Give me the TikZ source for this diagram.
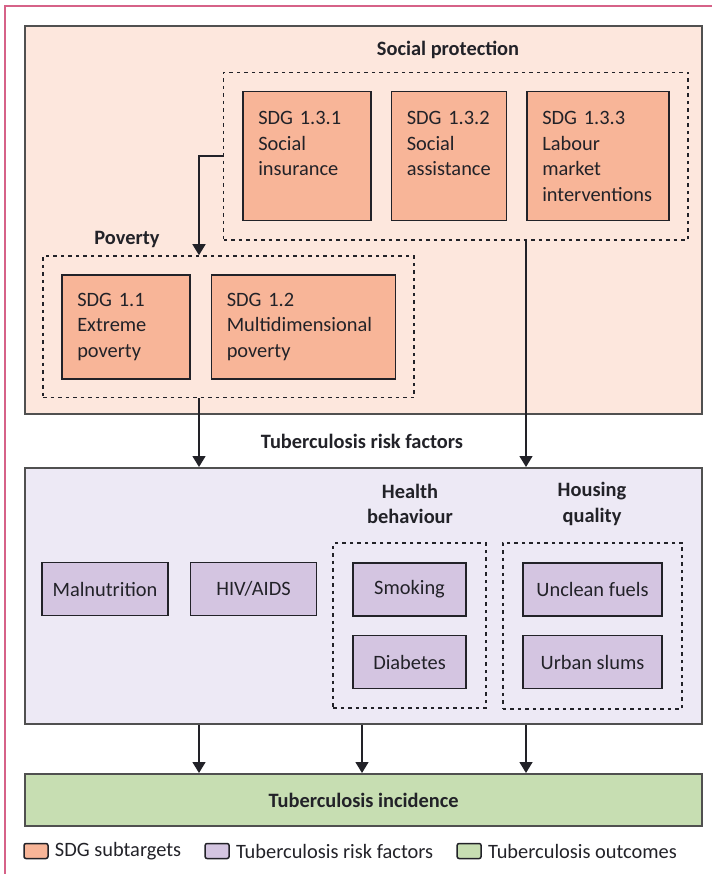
\documentclass[tikz,border=0pt]{standalone}
\usepackage{fontspec}
\setmainfont{Carlito}
\usetikzlibrary{positioning, fit, arrows.meta}

\definecolor{pinkline}{RGB}{214,98,136}
\definecolor{sdgback}{RGB}{253,231,221}
\definecolor{sdgfill}{RGB}{248,181,152}
\definecolor{riskback}{RGB}{237,233,245}
\definecolor{riskfill}{RGB}{212,197,225}
\definecolor{outfill}{RGB}{199,222,178}
\definecolor{frame}{RGB}{80,80,80}
\definecolor{ink}{RGB}{34,34,40}

\begin{document}
\begin{tikzpicture}[x=1pt,y=-1pt,>={Triangle[width=13pt,length=11pt]},
  every node/.style={font=\fontsize{20.4}{25.5}\selectfont,text=ink},
  panel/.style={draw=frame,line width=2.2pt,anchor=north west,minimum width=677pt,inner sep=0pt},
  sdg/.style={draw=ink,fill=sdgfill,line width=1.5pt,inner xsep=15.5pt,inner ysep=0pt,align=left},
  risk/.style={draw=ink,fill=riskfill,line width=1.5pt,minimum height=53pt,inner sep=0pt},
  group/.style={draw=ink,line width=1.6pt,dash pattern=on 3.5pt off 4pt},
  heading/.style={font=\bfseries\fontsize{20.4}{25.5}\selectfont,align=center},
  key/.style={draw=ink,line width=1.5pt,rounded corners=2pt,minimum width=24pt,minimum height=15pt,inner sep=0pt},
  link/.style={->,draw=ink,line width=1.5pt}]
  \useasboundingbox (0,0) rectangle (712,874);
  \draw[pinkline,line width=2.2pt] (712,6) -- (5,6) -- (5,874);

  % panels
  \node[panel,fill=sdgback,minimum height=388pt] (sdgpanel) at (24,25) {};
  \node[panel,fill=riskback,minimum height=256pt] (riskpanel) at (24,467) {};
  \node[panel,fill=outfill,minimum height=52pt,font=\bfseries\fontsize{20.4}{25.5}\selectfont] (inc) at (24,773) {Tuberculosis incidence};

  % social protection
  \node[sdg,text width=97pt,minimum height=129pt,anchor=north west] (si) at (242,91) {SDG 1.3.1\\Social\\insurance\\~};
  \node[sdg,text width=84pt,minimum height=129pt,right=19pt of si] (sa) {SDG 1.3.2\\Social\\assistance\\~};
  \node[sdg,text width=111pt,minimum height=129pt,right=19pt of sa] (lm) {SDG 1.3.3\\Labour\\market\\interventions};
  \node[group,fit=(si)(lm),inner sep=18.5pt] (sp) {};
  \node[heading] (sptitle) at (448,50) {Social protection};

  % poverty
  \node[sdg,text width=97pt,minimum height=104pt,anchor=north west] (ep) at (61,274) {SDG 1.1\\Extreme\\poverty};
  \node[sdg,text width=153pt,minimum height=104pt,right=20pt of ep] (mp) {SDG 1.2\\Multidimensional\\poverty};
  \node[group,fit=(ep)(mp),inner sep=18pt] (pov) {};
  \node[heading] (povtitle) at (127,239) {Poverty};

  % risk factors
  \node[heading] (risktitle) at (362,441) {Tuberculosis risk factors};
  \node[risk,minimum width=126pt] (mal) at (105,589) {Malnutrition};
  \node[risk,minimum width=126pt,right=21pt of mal] (hiv) {HIV/AIDS};
  \node[risk,minimum width=113pt] (smk) at (409.5,589.5) {Smoking};
  \node[risk,minimum width=113pt,below=18pt of smk] (dia) {Diabetes};
  \node[risk,minimum width=139pt] (fuel) at (592.5,589.5) {Unclean fuels};
  \node[risk,minimum width=139pt,below=18pt of fuel] (slum) {Urban slums};
  \node[group,fit=(smk)(dia),inner sep=19pt] (hb) {};
  \node[group,fit=(fuel)(slum),inner sep=19.5pt] (hq) {};
  \node[heading] (hbtitle) at (410,504) {Health\\behaviour};
  \node[heading] (hqtitle) at (592,504) {Housing\\quality};

  % legend
  \node[key,fill=sdgfill] (k1) at (36,851) {};
  \node[inner sep=0pt,right=6pt of k1] (k1t) {SDG subtargets};
  \node[key,fill=riskfill,right=23pt of k1t] (k2) {};
  \node[inner sep=0pt,right=6pt of k2] (k2t) {Tuberculosis risk factors};
  \node[key,fill=outfill,right=23pt of k2t] (k3) {};
  \node[inner sep=0pt,right=6pt of k3] (k3t) {Tuberculosis outcomes};

  % arrows
  \coordinate (colA) at (199,0);
  \coordinate (colB) at (362,0);
  \coordinate (colC) at (526,0);
  \draw[link] (sp.west) -| (colA |- pov.north);
  \draw[link] (colA |- pov.south) -- (colA |- riskpanel.north);
  \draw[link] (colC |- sp.south) -- (colC |- riskpanel.north);
  \draw[link] (colA |- riskpanel.south) -- (colA |- inc.north);
  \draw[link] (colB |- riskpanel.south) -- (colB |- inc.north);
  \draw[link] (colC |- riskpanel.south) -- (colC |- inc.north);
\end{tikzpicture}
\end{document}
